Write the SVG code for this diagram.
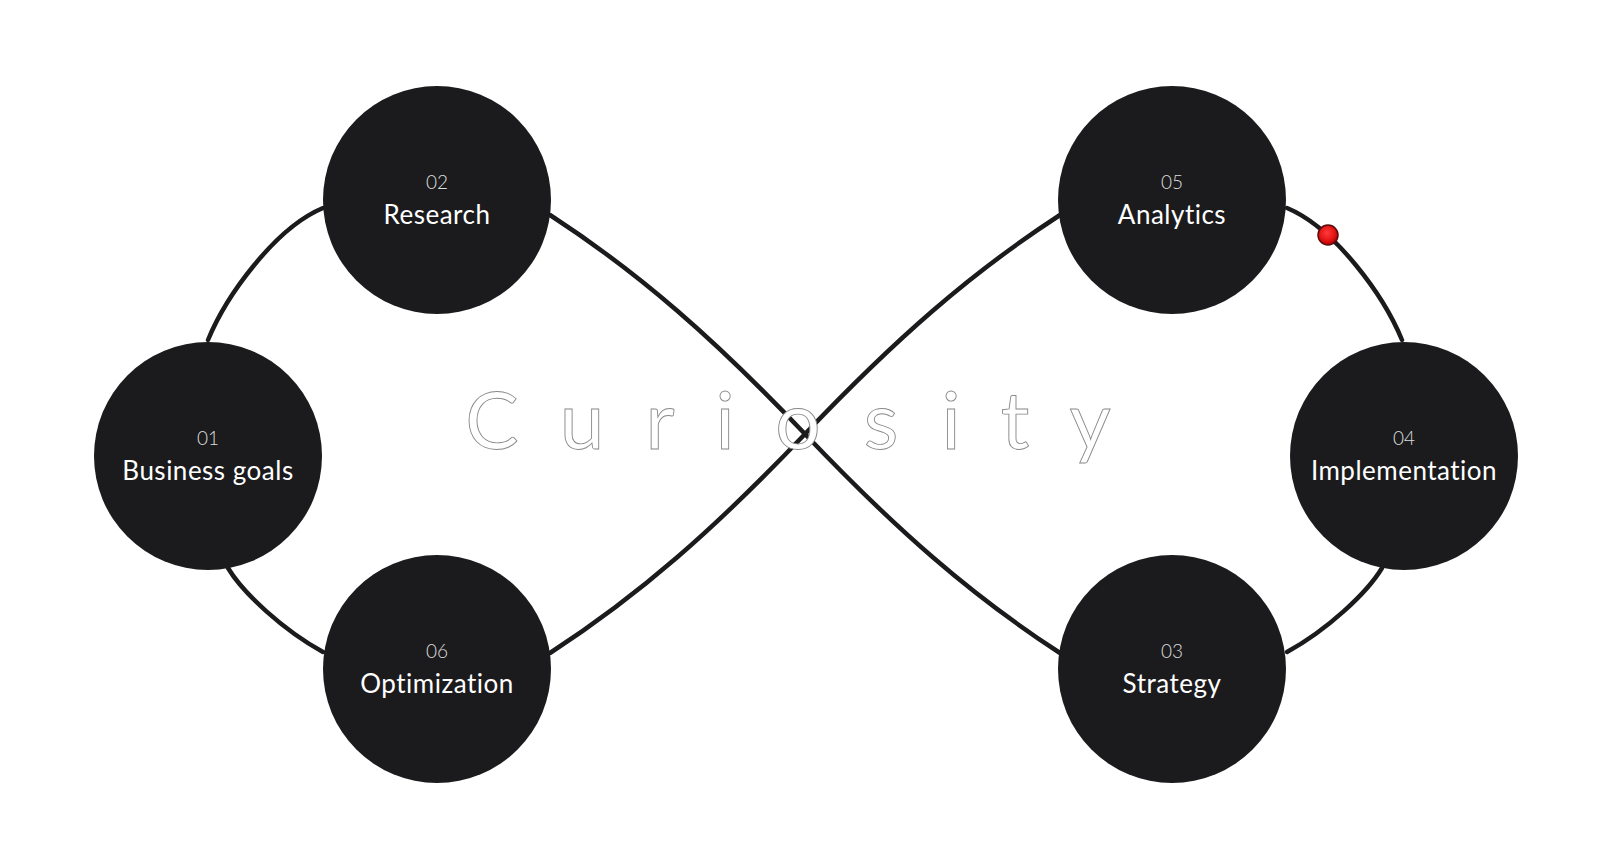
<svg xmlns="http://www.w3.org/2000/svg" width="1600" height="845" viewBox="0 0 1600 845">
  <defs>
    <style>
      .link { fill: none; stroke: #1b1b1d; stroke-width: 4.5; stroke-linecap: round; }
      .node circle { fill: #1b1b1d; }
      text { font-variant-ligatures: none; }
      .num { font-family: Lato, "Liberation Sans", sans-serif; font-size: 19px; font-weight: 300; fill: #dedede; text-anchor: middle; }
      .label { font-family: Lato, "Liberation Sans", sans-serif; font-size: 26px; font-weight: 400; letter-spacing: 0.5px; fill: #ffffff; text-anchor: middle; }
      .title { font-family: Lato, "Liberation Sans", sans-serif; font-size: 80px; font-weight: 400; fill: #ffffff; stroke: #8a8a8a; stroke-width: 0.9; text-anchor: middle; }
    </style>
    <radialGradient id="dotGrad" cx="45%" cy="40%" r="60%">
      <stop offset="0%" stop-color="#ff3a3a"/>
      <stop offset="70%" stop-color="#e01010"/>
      <stop offset="100%" stop-color="#a00000"/>
    </radialGradient>
  </defs>
  <rect width="1600" height="845" fill="#ffffff"/>

  <g id="connectors">
    <path class="link" d="M550,215 C640,273.5 715,339.5 805,434 C895,528.5 970,594.5 1060,653"/>
    <path class="link" d="M550,653 C640,594.5 715,528.5 805,434 C895,339.5 970,273.5 1060,215"/>
    <path class="link" d="M323,208 C275,228 226,296 208,340"/>
    <path class="link" d="M228,568 C243,593 283,630 323,652"/>
    <path class="link" d="M1287,208 C1335,228 1384,296 1402,340"/>
    <path class="link" d="M1382,568 C1367,593 1327,630 1287,652"/>
  </g>

  <text id="title" class="title" x="492 582 660 725 798 881 951 1015 1090" y="449">Curiosity</text>

  <g id="node-01" class="node">
    <circle cx="208" cy="456" r="114"/>
    <text class="num" x="208" y="445">01</text>
    <text class="label" x="208" y="480">Business goals</text>
  </g>
  <g id="node-02" class="node">
    <circle cx="437" cy="200" r="114"/>
    <text class="num" x="437" y="189">02</text>
    <text class="label" x="437" y="224">Research</text>
  </g>
  <g id="node-03" class="node">
    <circle cx="1172" cy="669" r="114"/>
    <text class="num" x="1172" y="658">03</text>
    <text class="label" x="1172" y="693">Strategy</text>
  </g>
  <g id="node-04" class="node">
    <circle cx="1404" cy="456" r="114"/>
    <text class="num" x="1404" y="445">04</text>
    <text class="label" x="1404" y="480">Implementation</text>
  </g>
  <g id="node-05" class="node">
    <circle cx="1172" cy="200" r="114"/>
    <text class="num" x="1172" y="189">05</text>
    <text class="label" x="1172" y="224">Analytics</text>
  </g>
  <g id="node-06" class="node">
    <circle cx="437" cy="669" r="114"/>
    <text class="num" x="437" y="658">06</text>
    <text class="label" x="437" y="693">Optimization</text>
  </g>

  <circle id="marker-dot" cx="1328" cy="235" r="10" fill="url(#dotGrad)" stroke="#5a0a0a" stroke-width="1.5"/>
</svg>
